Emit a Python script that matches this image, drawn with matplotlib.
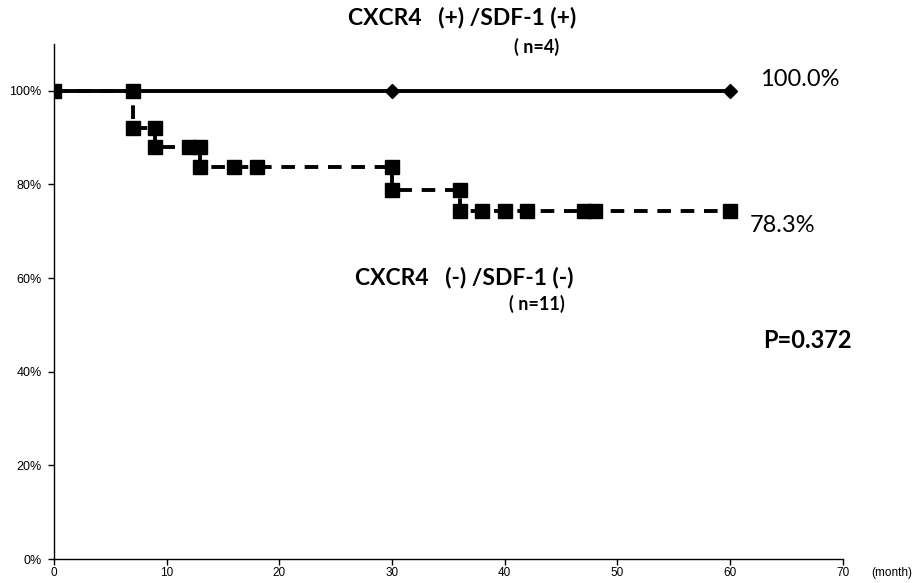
import matplotlib
matplotlib.use('Agg')
import matplotlib.pyplot as plt
from matplotlib.ticker import FuncFormatter

# CXCR4(+)/SDF-1(+) group: no events
pos_month = [0, 30, 60]
pos_surv = [100, 100, 100]

# CXCR4(-)/SDF-1(-) group: step curve with censor marks
neg_month = [0, 7, 7, 9, 9, 12, 13, 13, 16, 18, 30, 30, 36, 36, 38, 40, 42, 47, 48, 60]
neg_surv = [100, 100, 92, 92, 88, 88, 88, 83.8, 83.8, 83.8, 83.8, 78.9, 78.9,
            74.4, 74.4, 74.4, 74.4, 74.4, 74.4, 74.4]

xticks = [0, 10, 20, 30, 40, 50, 60, 70]
yticks = [0, 20, 40, 60, 80, 100]

tickfont = 'Liberation Sans'

fig = plt.figure(figsize=(9.15, 5.83), dpi=100)
ax = fig.add_axes([0.059, 0.041, 0.862, 0.8835])

ax.plot(neg_month, neg_surv, color='black', lw=2.8, ls=(0, (3.5, 2.5)),
        marker='s', ms=10, mec='black', mfc='black', zorder=3)
ax.plot(pos_month, pos_surv, color='black', lw=2.8, marker='D', ms=7.5,
        mec='black', mfc='black', zorder=2)

ax.set_xlim(0, 70)
ax.set_ylim(0, 110)
ax.set_xticks(xticks)
ax.set_yticks(yticks)
ax.yaxis.set_major_formatter(FuncFormatter(lambda v, p: '%d%%' % v))
for s in ['top', 'right']:
    ax.spines[s].set_visible(False)
for s in ['left', 'bottom']:
    ax.spines[s].set_linewidth(1.0)
ax.tick_params(axis='y', direction='out', length=4, width=1, labelsize=9, pad=5)
ax.tick_params(axis='x', direction='out', length=4, width=1, labelsize=8.5, pad=2)
for lab in ax.get_xticklabels() + ax.get_yticklabels():
    lab.set_fontfamily(tickfont)

bold = dict(fontfamily='Lato', fontweight='bold', color='black')
fig.text(462 / 915, 1 - 18 / 583, 'CXCR4   (+) /SDF-1 (+)', ha='center', va='center', fontsize=16.5, **bold)
fig.text(537 / 915, 1 - 47 / 583, '( n=4)', ha='center', va='center', fontsize=13, **bold)
fig.text(464 / 915, 1 - 277 / 583, 'CXCR4   (-) /SDF-1 (-)', ha='center', va='center', fontsize=16.5, **bold)
fig.text(537 / 915, 1 - 304 / 583, '( n=11)', ha='center', va='center', fontsize=13, **bold)
fig.text(763 / 915, 1 - 340 / 583, 'P=0.372', ha='left', va='center', fontsize=17, **bold)
fig.text(760 / 915, 1 - 80 / 583, '100.0%', ha='left', va='center', fontsize=17, fontfamily='Lato')
fig.text(750 / 915, 1 - 226 / 583, '78.3%', ha='left', va='center', fontsize=17, fontfamily='Lato')
fig.text(871 / 915, 1 - 573 / 583, '(month)', ha='left', va='center', fontsize=8.5, fontfamily=tickfont)

fig.savefig('out.png', dpi=100)
